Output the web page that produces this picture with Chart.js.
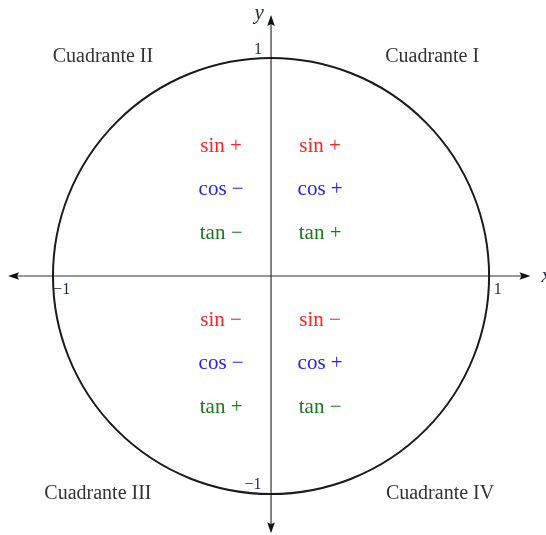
<!DOCTYPE html>
<html>
<head>
<meta charset="utf-8">
<script src="https://cdn.jsdelivr.net/npm/chart.js@4"></script>
<style>
html,body{margin:0;padding:0;background:#fff;}
#wrap{width:546px;height:535px;position:relative;}
</style>
</head>
<body>
<div id="wrap"><canvas id="c"></canvas></div>
<script>
// Unit circle radius and axis extents (data units)
const circleRadius = 1;
const xAxisRange = [-1.206, 1.19];
const yAxisRange = [-1.18, 1.197];
const viewX = [-1.243, 1.261];
const viewY = [-1.188, 1.266];

// Quadrant labels
const quadrantLabels = ["Cuadrante I", "Cuadrante II", "Cuadrante III", "Cuadrante IV"];
const quadrantX = [0.739, -0.771, -0.794, 0.775];
const quadrantY = [1.005, 1.005, -1.0, -1.0];

// Sign labels
const signFunctions = ["sin", "cos", "tan"];
const signColors = ["#ff2020", "#2323ff", "#1a7a1a"];
const signRowsY = [0.596, 0.399, 0.197, -0.206, -0.399, -0.601];
const signColsX = [-0.229, 0.225];
const signsQII = ["+", "\u2212", "\u2212"];
const signsQI = ["+", "+", "+"];
const signsQIII = ["\u2212", "\u2212", "+"];
const signsQIV = ["\u2212", "+", "\u2212"];

// Tick labels
const tickLabels = ["1", "\u22121", "1", "\u22121"];
const tickX = [-0.06, -0.96, 1.04, -0.083];
const tickY = [1.037, -0.064, -0.064, -0.959];

// Axis titles
const axisTitles = ["x", "y"];
const axisTitleX = [1.262, -0.055];
const axisTitleY = [0.0, 1.205];

const drawPlugin = {
  id: 'unitCircle',
  afterDatasetsDraw(chart) {
    const ctx = chart.ctx;
    const sx = chart.scales.x, sy = chart.scales.y;
    const X = v => sx.getPixelForValue(v);
    const Y = v => sy.getPixelForValue(v);
    ctx.save();
    // axes
    ctx.strokeStyle = '#333';
    ctx.fillStyle = '#111';
    ctx.lineWidth = 1.2;
    const ax0 = X(xAxisRange[0]), ax1 = X(xAxisRange[1]), ay = Y(0);
    const by0 = Y(yAxisRange[0]), by1 = Y(yAxisRange[1]), bx = X(0);
    ctx.beginPath();
    ctx.moveTo(ax0 + 6, ay); ctx.lineTo(ax1 - 6, ay);
    ctx.moveTo(bx, by1 + 6); ctx.lineTo(bx, by0 - 6);
    ctx.stroke();
    const L = 11, W = 3.8;
    ctx.beginPath();
    ctx.moveTo(ax1, ay); ctx.lineTo(ax1 - L, ay - W); ctx.lineTo(ax1 - L + 2, ay); ctx.lineTo(ax1 - L, ay + W); ctx.closePath();
    ctx.moveTo(ax0, ay); ctx.lineTo(ax0 + L, ay - W); ctx.lineTo(ax0 + L - 2, ay); ctx.lineTo(ax0 + L, ay + W); ctx.closePath();
    ctx.moveTo(bx, by1); ctx.lineTo(bx - W, by1 + L); ctx.lineTo(bx, by1 + L - 2); ctx.lineTo(bx + W, by1 + L); ctx.closePath();
    ctx.moveTo(bx, by0); ctx.lineTo(bx - W, by0 - L); ctx.lineTo(bx, by0 - L + 2); ctx.lineTo(bx + W, by0 - L); ctx.closePath();
    ctx.fill();
    // circle
    const cx = X(0), cy = Y(0);
    const rx = X(circleRadius) - cx, ry = cy - Y(circleRadius);
    ctx.strokeStyle = '#1a1a1a';
    ctx.lineWidth = 2;
    ctx.beginPath();
    ctx.ellipse(cx, cy, rx, ry, 0, 0, Math.PI * 2);
    ctx.stroke();
    // text
    ctx.textAlign = 'center';
    ctx.textBaseline = 'middle';
    ctx.font = '20px "Liberation Serif", serif';
    ctx.fillStyle = '#333';
    quadrantLabels.forEach((t, i) => ctx.fillText(t, X(quadrantX[i]), Y(quadrantY[i])));
    const quads = [signsQII, signsQI, signsQIII, signsQIV];
    ctx.font = '21px "Liberation Serif", serif';
    quads.forEach((signs, q) => {
      const col = q % 2;
      const rowBase = q < 2 ? 0 : 3;
      signFunctions.forEach((f, k) => {
        ctx.fillStyle = signColors[k];
        ctx.fillText(f + ' ' + signs[k], X(signColsX[col]), Y(signRowsY[rowBase + k]));
      });
    });
    ctx.font = '16px "Liberation Serif", serif';
    ctx.fillStyle = '#1c2a40';
    tickLabels.forEach((t, i) => ctx.fillText(t, X(tickX[i]), Y(tickY[i])));
    ctx.font = 'italic 21px "Liberation Serif", serif';
    ctx.fillStyle = '#1c2a40';
    axisTitles.forEach((t, i) => ctx.fillText(t, X(axisTitleX[i]), Y(axisTitleY[i])));
    ctx.restore();
  }
};

new Chart(document.getElementById('c'), {
  type: 'scatter',
  data: { datasets: [{ data: [], showLine: false }] },
  options: {
    responsive: true,
    maintainAspectRatio: false,
    animation: false,
    layout: { padding: 0 },
    plugins: { legend: { display: false }, tooltip: { enabled: false } },
    scales: {
      x: { type: 'linear', min: viewX[0], max: viewX[1], display: false },
      y: { type: 'linear', min: viewY[0], max: viewY[1], display: false }
    }
  },
  plugins: [drawPlugin]
});
</script>
</body>
</html>
